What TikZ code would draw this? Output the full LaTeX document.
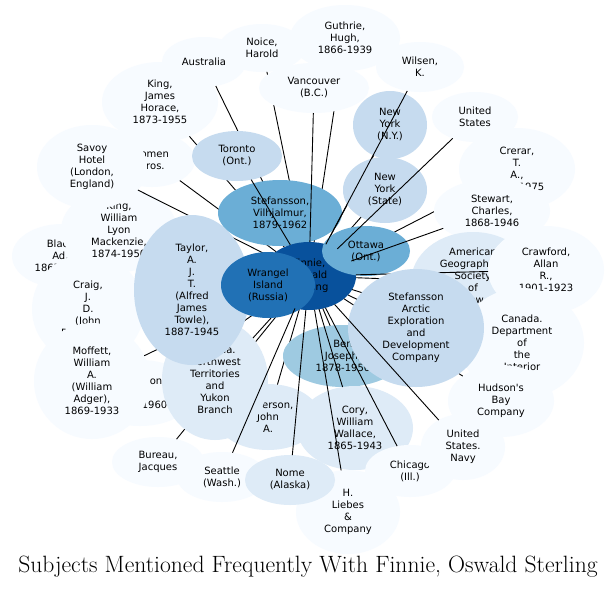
\documentclass[tikz,border=0pt]{standalone}
\usepackage{fontspec}
\newfontfamily\dejavu{DejaVu Sans}
\usetikzlibrary{shapes.geometric}

\definecolor{bl0}{HTML}{F7FBFF}
\definecolor{bl1}{HTML}{DEEBF7}
\definecolor{bl2}{HTML}{C6DBEF}
\definecolor{bl3}{HTML}{9ECAE1}
\definecolor{bl4}{HTML}{6BAED6}
\definecolor{bl6}{HTML}{2171B5}
\definecolor{bl7}{HTML}{08519C}

\begin{document}
\begin{tikzpicture}[
    x=1pt, y=-1pt,
    blob/.style={
        ellipse, draw=none, inner sep=0pt, outer sep=0pt,
        align=center, text=black,
        font=\dejavu\fontsize{10}{12}\selectfont,
    },
    b0/.style={blob, fill=bl0},
    b1/.style={blob, fill=bl1},
    b2/.style={blob, fill=bl2},
    b3/.style={blob, fill=bl3},
    b4/.style={blob, fill=bl4},
    b6/.style={blob, fill=bl6},
    hub/.style={blob, fill=bl7},
    link/.style={draw=black, line width=0.9pt},
    title/.style={font=\fontsize{23.6}{28}\selectfont},
]

\path[fill=white] (0,0) rectangle (616,590);

% --- anchor for the hub (drawn later) ---
\node[blob, minimum width=94, minimum height=68] (fin) at (309,276) {};

% --- Left side ---
\node[b0, minimum width=100, minimum height=64] (black) at (62,256) {Black,\\Ad.,\\1867-1939} edge[link] (fin);
\node[b0, minimum width=112, minimum height=110] (craig) at (88,309) {Craig,\\J.\\D.\\(John\\Davidson),} edge[link] (fin);
\node[b0, minimum width=116, minimum height=84] (kingwlm) at (119,230) {King,\\William\\Lyon\\Mackenzie,\\1874-1950} edge[link] (fin);
\node[b0, minimum width=86, minimum height=54] (lomen) at (152,160) {Lomen\\Bros.} edge[link] (fin);
\node[b0, minimum width=110, minimum height=84] (savoy) at (92,167) {Savoy\\Hotel\\(London,\\England)} edge[link] (fin);
\node[b0, minimum width=110, minimum height=66] (wilkinson) at (140,393) {Wilkinson,\\H.\\1888-1960} edge[link] (fin);
\node[b0, minimum width=116, minimum height=116] (moffett) at (92,381) {Moffett,\\William\\A.\\(William\\Adger),\\1869-1933} edge[link] (fin);
\node[b0, minimum width=92, minimum height=50] (bureau) at (158,462) {Bureau,\\Jacques} edge[link] (fin);
\node[b1, minimum width=104, minimum height=66] (anderson) at (268,417) {Anderson,\\John\\A.} edge[link] (fin);
\node[b1, minimum width=106, minimum height=120] (nwt) at (215,380) {Canada.\\Northwest\\Territories\\and\\Yukon\\Branch} edge[link] (fin);
\node[b2, minimum width=116, minimum height=150] (taylor) at (192,290) {Taylor,\\A.\\J.\\T.\\(Alfred\\James\\Towle),\\1887-1945} edge[link] (fin);

% --- Top ---
\node[b0, minimum width=110, minimum height=66] (guthrie) at (345,38) {Guthrie,\\Hugh,\\1866-1939} edge[link] (fin);
\node[b0, minimum width=86, minimum height=48] (noice) at (262,48) {Noice,\\Harold} edge[link] (fin);
\node[b0, minimum width=84, minimum height=50] (australia) at (204,62) {Australia} edge[link] (fin);
\node[b0, minimum width=116, minimum height=80] (kingjh) at (160,102) {King,\\James\\Horace,\\1873-1955} edge[link] (fin);

% --- Centre ---
\node[b4, minimum width=124, minimum height=66] (stefv) at (280,213) {Stefansson,\\Vilhjalmur,\\1879-1962};
\node[hub, minimum width=94, minimum height=68] (finnie) at (fin) {Finnie,\\Oswald\\Sterling};
\node[b2, minimum width=90, minimum height=50] (toronto) at (237,156) {Toronto\\(Ont.)} edge[link] (fin);
\node[b0, minimum width=110, minimum height=50] (vancouver) at (314,88) {Vancouver\\(B.C.)} edge[link] (fin);
\node[b6, minimum width=94, minimum height=66] (wrangel) at (268,285) {Wrangel\\Island\\(Russia)};

% --- Right side ---
\node[b2, minimum width=74, minimum height=68] (nyny) at (390,125) {New\\York\\(N.Y.)} edge[link] (fin);
\node[b2, minimum width=84, minimum height=66] (nys) at (385,190) {New\\York\\(State)} edge[link] (fin);
\node[b0, minimum width=116, minimum height=82] (crerar) at (517,169) {Crerar,\\T.\\A.,\\1876-1975} edge[link] (fin);
\node[b4, minimum width=88, minimum height=50] (ottawa) at (366,251) {Ottawa\\(Ont.)};
\node[b0, minimum width=88, minimum height=50] (wilsen) at (420,67) {Wilsen,\\K.} edge[link] (fin);
\node[b0, minimum width=86, minimum height=50] (us) at (475,117) {United\\States} edge[link] (fin);
\node[b0, minimum width=116, minimum height=64] (stewart) at (492,211) {Stewart,\\Charles,\\1868-1946} edge[link] (fin);
\node[b1, minimum width=124, minimum height=100] (ags) at (473,282) {American\\Geographical\\Society\\of\\New\\York} edge[link] (fin);
\node[b0, minimum width=116, minimum height=88] (crawford) at (546,270) {Crawford,\\Allan\\R.,\\1901-1923} edge[link] (fin);
\node[b0, minimum width=124, minimum height=110] (interior) at (522,343) {Canada.\\Department\\of\\the\\Interior} edge[link] (fin);
\node[b0, minimum width=106, minimum height=72] (hudson) at (501,401) {Hudson's\\Bay\\Company} edge[link] (fin);

% --- Bottom ---
\node[b3, minimum width=120, minimum height=62] (ben) at (343,356) {Ben\\Joseph,\\1878-1950} edge[link] (fin);
\node[b2, minimum width=136, minimum height=118] (saedc) at (416,328) {Stefansson\\Arctic\\Exploration\\and\\Development\\Company} edge[link] (fin);
\node[b1, minimum width=116, minimum height=84] (cory) at (355,428) {Cory,\\William\\Wallace,\\1865-1943} edge[link] (fin);
\node[b0, minimum width=90, minimum height=52] (chicago) at (410,471) {Chicago\\(Ill.)} edge[link] (fin);
\node[b0, minimum width=84, minimum height=66] (navy) at (463,447) {United\\States.\\Navy} edge[link] (fin);
\node[b0, minimum width=104, minimum height=84] (liebes) at (348,512) {H.\\Liebes\\\&\\Company} edge[link] (fin);
\node[b0, minimum width=90, minimum height=50] (seattle) at (222,477) {Seattle\\(Wash.)} edge[link] (fin);
\node[b1, minimum width=90, minimum height=50] (nome) at (290,480) {Nome\\(Alaska)} edge[link] (fin);

% --- Title ---
\node[title] (caption) at (308,567) {Subjects Mentioned Frequently With Finnie, Oswald Sterling};

\end{tikzpicture}
\end{document}
